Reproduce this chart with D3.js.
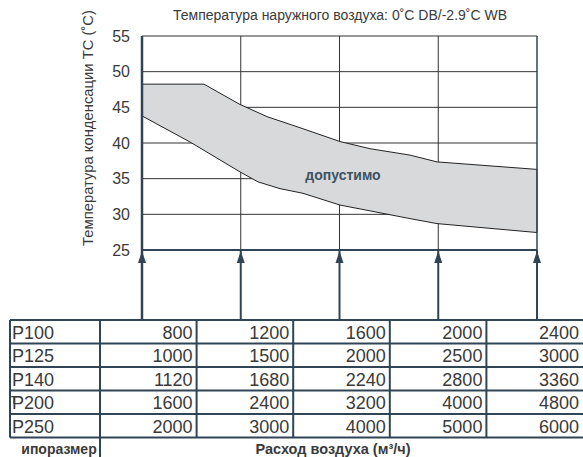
<!DOCTYPE html>
<html>
<head>
<meta charset="utf-8">
<script src="https://cdn.jsdelivr.net/npm/d3@7"></script>
<style>
  html, body { margin: 0; padding: 0; background: #fff; }
  svg { display: block; font-family: "Liberation Sans", Arial, sans-serif; }
</style>
</head>
<body>
<svg id="chart" width="583" height="457"></svg>
<script>
// ---------- data ----------
const title = "Температура наружного воздуха: 0˚С DB/-2.9˚С WB";
const yTitle = "Температура конденсации ТС (˚С)";
const areaLabel = "допустимо";
const yTicks = [25, 30, 35, 40, 45, 50, 55];
const xFlowsP100 = [800, 1200, 1600, 2000, 2400];
const upperFlow = [800, 1051, 1197, 1306, 1452, 1602, 1724, 1886, 1995, 2400];
const upperTemp = [48.25, 48.25, 45.4, 43.7, 42.0, 40.2, 39.2, 38.3, 37.35, 36.3];
const lowerFlow = [800, 994, 1197, 1270, 1359, 1452, 1602, 1886, 1995, 2400];
const lowerTemp = [43.8, 40.15, 35.95, 34.55, 33.6, 32.95, 31.3, 29.4, 28.7, 27.45];
const models = ["P100", "P125", "P140", "P200", "P250"];
const flowP100 = [800, 1200, 1600, 2000, 2400];
const flowP125 = [1000, 1500, 2000, 2500, 3000];
const flowP140 = [1120, 1680, 2240, 2800, 3360];
const flowP200 = [1600, 2400, 3200, 4000, 4800];
const flowP250 = [2000, 3000, 4000, 5000, 6000];
const tableRows = [flowP100, flowP125, flowP140, flowP200, flowP250];
const footerLeft = "ипоразмер";
const footerLeftLost = "Т";
const footerRight = "Расход воздуха (м³/ч)";

// ---------- layout ----------
const svg = d3.select("#chart");
const slate = "#2f4555";
const grid = "#333";
const textCol = "#3a3a3a";

const x = d3.scaleLinear().domain([800, 2400]).range([142, 537]);
const y = d3.scaleLinear().domain([25, 55]).range([250, 36]);
const tableTop = 320, rowH = 23.5;
const colX = d3.scaleLinear().domain([0, 5]).range([100, 583]);

// title
svg.append("text").attr("x", 340).attr("y", 20).attr("text-anchor", "middle")
  .attr("font-size", 14).attr("fill", textCol).text(title);

// y title
svg.append("text").attr("transform", "translate(93,128) rotate(-90)")
  .attr("text-anchor", "middle").attr("font-size", 14.8).attr("fill", textCol).text(yTitle);

// horizontal gridlines (above 25)
svg.append("g").selectAll("line").data(yTicks.filter(d => d > 25)).join("line")
  .attr("x1", x(800)).attr("x2", x(2400)).attr("y1", d => y(d)).attr("y2", d => y(d))
  .attr("stroke", grid).attr("stroke-width", 1);

// vertical gridlines
svg.append("g").selectAll("line").data(xFlowsP100.slice(1, 4)).join("line")
  .attr("x1", d => x(d)).attr("x2", d => x(d)).attr("y1", y(55)).attr("y2", y(25))
  .attr("stroke", grid).attr("stroke-width", 1);

// area
const poly = upperFlow.map((f, i) => [x(f), y(upperTemp[i])])
  .concat(lowerFlow.map((f, i) => [x(f), y(lowerTemp[i])]).reverse());
svg.append("path").attr("d", "M" + poly.map(p => p.join(",")).join("L") + "Z")
  .attr("fill", "#d8d9db").attr("stroke", "#222").attr("stroke-width", 1);

svg.append("text").attr("x", 343).attr("y", 180).attr("text-anchor", "middle")
  .attr("font-size", 14).attr("font-weight", "bold").attr("fill", "#3d5262").text(areaLabel);

// right border
svg.append("line").attr("x1", x(2400)).attr("x2", x(2400)).attr("y1", y(55)).attr("y2", y(25))
  .attr("stroke", slate).attr("stroke-width", 1.5);

// y axis
const yAxis = d3.axisLeft(y).tickValues(yTicks).tickSize(0).tickPadding(12);
const gy = svg.append("g").attr("transform", `translate(${x(800)},0)`).call(yAxis);
gy.select(".domain").remove();
gy.selectAll("text").attr("font-size", 16).attr("fill", textCol)
  .attr("font-family", "Liberation Sans, Arial, sans-serif");
svg.append("line").attr("x1", x(800)).attr("x2", x(800)).attr("y1", y(55)).attr("y2", tableTop)
  .attr("stroke", slate).attr("stroke-width", 2.5);

// 25 line
svg.append("line").attr("x1", x(800)).attr("x2", x(2400)).attr("y1", y(25)).attr("y2", y(25))
  .attr("stroke", slate).attr("stroke-width", 2);

// arrows
const ag = svg.append("g").selectAll("g").data(xFlowsP100).join("g");
ag.append("line").attr("x1", d => x(d)).attr("x2", d => x(d)).attr("y1", y(25)).attr("y2", tableTop)
  .attr("stroke", slate).attr("stroke-width", 2);
ag.append("path").attr("d", d => `M${x(d)},${y(25) + 1}L${x(d) - 4},${y(25) + 13}L${x(d) + 4},${y(25) + 13}Z`)
  .attr("fill", slate);

// table
const tg = svg.append("g");
tg.append("line").attr("x1", 10).attr("x2", 583).attr("y1", tableTop).attr("y2", tableTop)
  .attr("stroke", slate).attr("stroke-width", 2);
tableRows.forEach((row, i) => {
  const yb = tableTop + (i + 1) * rowH;
  tg.append("line").attr("x1", 10).attr("x2", 583).attr("y1", yb).attr("y2", yb)
    .attr("stroke", slate).attr("stroke-width", 2);
  tg.append("text").attr("x", 12).attr("y", yb - 5).attr("font-size", 18)
    .attr("fill", textCol).text(models[i]);
  row.forEach((v, j) => {
    tg.append("text").attr("x", colX(j + 1) - 4).attr("y", yb - 5).attr("text-anchor", "end")
      .attr("font-size", 18).attr("fill", textCol).text(v);
  });
});
const tableBottom = tableTop + tableRows.length * rowH;
tg.append("line").attr("x1", 10).attr("x2", 10).attr("y1", tableTop).attr("y2", tableBottom)
  .attr("stroke", slate).attr("stroke-width", 2);
d3.range(0, 5).forEach(j => {
  tg.append("line").attr("x1", colX(j)).attr("x2", colX(j)).attr("y1", tableTop)
    .attr("y2", j === 0 ? 457 : tableBottom).attr("stroke", slate).attr("stroke-width", 2);
});
// lost letter overlapping P200
tg.append("text").attr("x", 11).attr("y", tableTop + 4 * rowH - 10).attr("font-size", 10)
  .attr("font-weight", "bold").attr("fill", textCol).text(footerLeftLost);
tg.append("text").attr("x", 59).attr("y", 454).attr("text-anchor", "middle").attr("font-size", 14)
  .attr("font-weight", "bold").attr("fill", textCol).text(footerLeft);
tg.append("text").attr("x", 333).attr("y", 454).attr("text-anchor", "middle").attr("font-size", 14.5)
  .attr("font-weight", "bold").attr("fill", textCol).text(footerRight);
</script>
</body>
</html>
